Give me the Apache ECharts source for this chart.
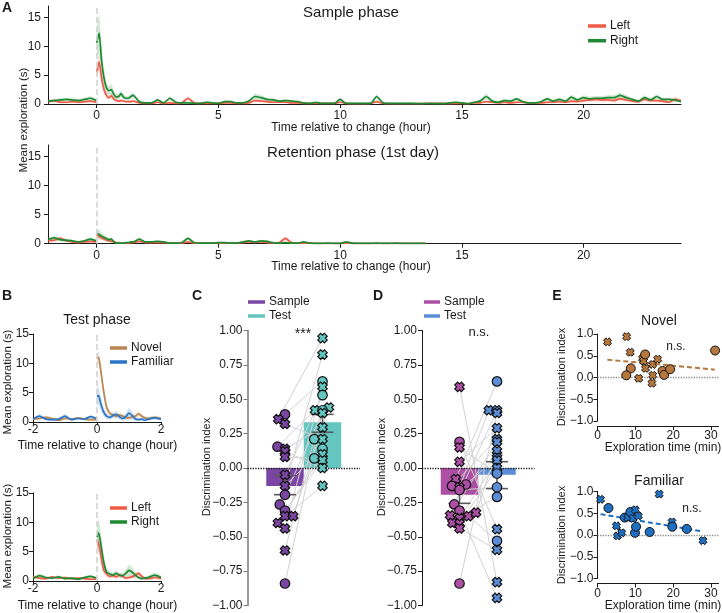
<!DOCTYPE html>
<html>
<head>
<meta charset="utf-8">
<script src="https://cdn.jsdelivr.net/npm/echarts@6/dist/echarts.min.js"></script>
<style>
  html, body { margin: 0; padding: 0; background: #fff; }
  #chart { width: 722px; height: 613px; }
</style>
</head>
<body>
<div id="chart"></div>
<script>
// ---------- data ----------
// time bins (hour) for panel A; null marks the change (line break)
const tA = [-2,-1.75,-1.5,-1.25,-1,-0.75,-0.5,-0.25,-0.02, null,
  0,0.1,0.2,0.3,0.4,0.5,0.6,0.7,0.8,0.9,1,1.1,1.2,1.3,1.4,1.5,
  1.75,
  2,2.25,2.5,2.75, 3,3.25,3.5,3.75, 4,4.25,4.5,4.75, 5,5.25,5.5,5.75,
  6,6.25,6.5,6.75, 7,7.25,7.5,7.75, 8,8.25,8.5,8.75, 9,9.25,9.5,9.75,
  10,10.25,10.5,10.75, 11,11.25,11.5,11.75, 12,12.25,12.5,12.75, 13,13.25,13.5,13.75,
  14,14.25,14.5,14.75, 15,15.25,15.5,15.75, 16,16.25,16.5,16.75, 17,17.25,17.5,17.75,
  18,18.25,18.5,18.75, 19,19.25,19.5,19.75, 20,20.25,20.5,20.75, 21,21.25,21.5,21.75,
  22,22.25,22.5,22.75, 23,23.25,23.5,23.75, 24];

// sample phase
const sampleRight = [0.5,0.6,0.7,0.8,0.7,0.6,0.8,1.0,0.6, null,
  10.6,12.3,7.5,4.5,2.8,2.3,2.5,1.7,1.2,1.3,1.8,1.2,1.0,1.0,1.3,1.5,
  0.4,
  0.2,0.2,0.7,0.2, 1.0,0.3,0.2,0.2, 0.1,0.1,0.3,0.2, 0.1,0.4,0.4,0.2,
  0.2,0.5,1.3,1.1, 0.8,0.7,0.5,0.6, 0.5,0.4,0.2,0.1, 0.3,0.1,0.1,0.1,
  0.8,0.1,0.1,0.1, 0.1,0.1,1.3,0.2, 0.1,0.1,0.1,0.1, 0.1,0.05,0.05,0.1,
  0.05,0.05,0.2,0.3, 0.2,0.05,0.3,0.5, 1.3,0.5,0.3,0.6, 0.5,0.9,0.4,0.2,
  0.2,0.4,0.9,0.5, 0.8,0.5,1.2,0.7, 1.1,0.9,1.0,1.0, 1.1,1.1,1.5,1.1,
  0.8,0.5,1.1,0.7, 1.3,0.8,0.8,0.7, 0.4];
const sampleRightSem = [0.2,0.3,0.3,0.3,0.3,0.3,0.3,0.4,0.3, null,
  2.5,3.5,2.5,1.5,1.0,0.8,1.0,0.7,0.5,0.5,0.6,0.4,0.4,0.4,0.5,0.5,
  0.2,
  0.1,0.1,0.3,0.1, 0.4,0.2,0.1,0.1, 0.1,0.1,0.2,0.1, 0.1,0.2,0.2,0.1,
  0.1,0.2,0.5,0.4, 0.3,0.3,0.2,0.3, 0.2,0.2,0.1,0.1, 0.1,0.1,0.1,0.1,
  0.3,0.1,0.1,0.1, 0.1,0.1,0.4,0.1, 0.1,0.1,0.1,0.1, 0.1,0.05,0.05,0.1,
  0.05,0.05,0.1,0.2, 0.1,0.05,0.2,0.3, 0.5,0.3,0.2,0.3, 0.3,0.3,0.2,0.1,
  0.1,0.2,0.3,0.3, 0.3,0.3,0.4,0.3, 0.4,0.4,0.4,0.4, 0.4,0.4,0.5,0.4,
  0.3,0.3,0.4,0.3, 0.4,0.3,0.3,0.3, 0.2];
const sampleLeft = [0.4,0.6,0.3,0.3,0.4,0.3,0.4,0.5,0.3, null,
  5.5,7.3,4.5,2.5,1.5,1.1,1.4,0.9,0.6,0.5,0.6,0.5,0.4,0.4,0.4,0.5,
  0.2,
  0.1,0.1,0.3,0.1, 0.2,0.1,0.2,1.0, 0.2,0.1,0.1,0.1, 0.1,0.2,0.2,0.1,
  0.1,0.2,0.6,0.5, 0.4,0.3,0.3,0.3, 0.2,0.2,0.1,0.1, 0.1,0.1,0.1,0.1,
  0.3,0.1,0.05,0.05, 0.05,0.1,0.4,0.1, 0.05,0.05,0.05,0.05, 0.05,0.05,0.1,0.1,
  0.1,0.1,0.05,0.1, 0.1,0.05,0.2,0.2, 0.4,0.3,0.2,0.3, 0.2,0.3,0.3,0.2,
  0.2,0.2,0.3,0.3, 0.4,0.3,0.5,0.4, 0.6,0.7,0.8,0.7, 0.7,0.6,0.9,0.7,
  0.5,0.4,0.8,0.6, 0.6,0.5,0.3,0.8, 0.6];
const sampleLeftSem = [0.2,0.3,0.2,0.2,0.2,0.2,0.2,0.2,0.2, null,
  1.2,1.5,1.0,0.8,0.5,0.4,0.5,0.4,0.3,0.3,0.3,0.2,0.2,0.2,0.2,0.2,
  0.1,
  0.1,0.1,0.1,0.1, 0.1,0.1,0.1,0.4, 0.1,0.1,0.1,0.1, 0.1,0.1,0.1,0.1,
  0.1,0.1,0.2,0.2, 0.2,0.1,0.1,0.1, 0.1,0.1,0.1,0.1, 0.1,0.1,0.1,0.1,
  0.1,0.1,0.05,0.05, 0.05,0.1,0.2,0.1, 0.05,0.05,0.05,0.05, 0.05,0.05,0.1,0.1,
  0.1,0.1,0.05,0.1, 0.1,0.05,0.1,0.1, 0.2,0.2,0.1,0.2, 0.1,0.2,0.2,0.1,
  0.1,0.1,0.2,0.2, 0.2,0.2,0.3,0.2, 0.3,0.3,0.4,0.3, 0.3,0.3,0.4,0.3,
  0.3,0.2,0.3,0.3, 0.3,0.3,0.2,0.4, 0.3];

// retention phase (recording ends ~13.5 h)
const retRight = [0.7,1.0,0.7,0.6,0.5,0.3,0.5,0.8,0.5, null,
  1.8,1.6,1.3,1.1,0.9,0.7,0.8,0.4,0.1,0.1,0.1,0.1,0.2,0.2,0.3,0.3,
  0.8,
  0.3,0.3,0.4,0.3, 0.1,0.1,0.2,0.9, 0.2,0.1,0.1,0.1, 0.2,0.2,0.1,0.1,
  0.3,0.5,0.3,0.5, 0.4,0.2,0.1,0.2, 0.1,0.1,0.3,0.1, 0.05,0.05,0.1,0.05,
  0.05,0.3,0.1,0.05, 0.05,0.05,0.1,0.05, 0.05,0.1,0.05,0.05, 0.05,0.05,0.05];
const retRightSem = [0.3,0.4,0.3,0.3,0.2,0.2,0.2,0.3,0.2, null,
  0.8,0.8,0.6,0.5,0.4,0.3,0.3,0.2,0.1,0.1,0.1,0.1,0.1,0.1,0.1,0.1,
  0.3,
  0.1,0.1,0.2,0.1, 0.1,0.1,0.1,0.3, 0.1,0.1,0.1,0.1, 0.1,0.1,0.1,0.1,
  0.1,0.2,0.1,0.2, 0.2,0.1,0.1,0.1, 0.1,0.1,0.1,0.1, 0.05,0.05,0.05,0.05,
  0.05,0.1,0.05,0.05, 0.05,0.05,0.05,0.05, 0.05,0.05,0.05,0.05, 0.05,0.05,0.05];
const retLeft = [0.5,0.6,0.9,0.5,0.3,0.2,0.3,0.4,0.3, null,
  1.5,1.3,1.0,0.8,0.6,0.5,0.4,0.3,0.2,0.2,0.1,0.1,0.1,0.1,0.2,0.2,
  0.4,
  0.2,0.2,0.2,0.2, 0.1,0.1,0.1,0.3, 0.1,0.1,0.1,0.1, 0.1,0.1,0.1,0.1,
  0.2,0.3,0.2,0.3, 0.2,0.1,0.2,0.9, 0.2,0.1,0.1,0.1, 0.05,0.05,0.05,0.05,
  0.05,0.1,0.05,0.05, 0.05,0.05,0.05,0.05, 0.05,0.05,0.05,0.05, 0.05,0.05,0.05];
const retLeftSem = [0.2,0.3,0.4,0.2,0.2,0.1,0.1,0.2,0.1, null,
  0.6,0.5,0.4,0.3,0.3,0.2,0.2,0.1,0.1,0.1,0.1,0.1,0.1,0.1,0.1,0.1,
  0.2,
  0.1,0.1,0.1,0.1, 0.1,0.1,0.1,0.1, 0.1,0.1,0.1,0.1, 0.1,0.1,0.1,0.1,
  0.1,0.1,0.1,0.1, 0.1,0.1,0.1,0.4, 0.1,0.1,0.1,0.1, 0.05,0.05,0.05,0.05,
  0.05,0.05,0.05,0.05, 0.05,0.05,0.05,0.05, 0.05,0.05,0.05,0.05, 0.05,0.05,0.05];

// panel B, test phase
const tB = [-2,-1.8,-1.6,-1.4,-1.2,-1,-0.8,-0.6,-0.4,-0.2,-0.02, null,
  0,0.05,0.1,0.2,0.3,0.4,0.5,0.6,0.7,0.8,0.9,1,1.1,1.2,1.3,1.4,1.5,1.6,1.8,2];
const testNovel = [0.5,0.6,0.8,0.6,0.3,0.6,0.5,0.7,0.5,0.4,0.4, null,
  10.8,11.0,9.5,5.5,2.5,1.5,1.2,1.0,1.2,1.0,0.8,0.7,0.9,1.0,1.4,1.0,0.7,0.6,0.8,0.6];
const testNovelSem = [0.2,0.2,0.3,0.2,0.2,0.2,0.2,0.2,0.2,0.2,0.2, null,
  1.0,1.2,1.2,1.0,0.6,0.4,0.3,0.3,0.3,0.3,0.3,0.3,0.3,0.4,0.5,0.4,0.3,0.3,0.3,0.3];
const testFamiliar = [0.5,1.0,0.5,0.4,0.5,1.0,0.4,0.6,0.5,0.9,0.6, null,
  4.3,4.5,3.5,1.8,1.0,0.8,1.1,1.3,0.9,0.6,0.9,1.5,1.1,0.5,0.4,0.5,0.3,0.5,0.7,0.5];
const testFamiliarSem = [0.2,0.4,0.2,0.2,0.2,0.4,0.2,0.2,0.2,0.3,0.2, null,
  1.5,1.6,1.3,0.8,0.5,0.4,0.5,0.6,0.5,0.4,0.6,1.0,0.7,0.3,0.2,0.3,0.2,0.3,0.3,0.2];
const testRight = [0.4,0.9,0.6,0.5,0.7,0.4,0.5,0.3,0.6,0.8,0.5, null,
  7.5,8.2,7.0,3.5,1.5,1.2,1.0,1.3,1.0,0.9,1.3,1.8,1.5,1.0,0.6,0.4,0.5,0.6,1.0,0.6];
const testRightSem = [0.2,0.3,0.3,0.2,0.3,0.2,0.2,0.2,0.2,0.3,0.2, null,
  2.0,2.5,2.0,1.2,0.6,0.5,0.4,0.5,0.4,0.4,0.6,1.0,0.8,0.5,0.3,0.2,0.3,0.3,0.5,0.3];
const testLeft = [0.7,0.5,0.4,0.7,0.5,0.6,0.4,0.5,0.4,0.3,0.3, null,
  7.0,6.5,5.0,2.0,1.2,0.8,0.9,0.7,1.0,0.8,0.5,0.6,0.7,1.0,1.3,0.8,0.4,0.4,0.6,0.4];
const testLeftSem = [0.2,0.2,0.2,0.2,0.2,0.2,0.2,0.2,0.2,0.2,0.2, null,
  1.5,1.5,1.2,0.8,0.5,0.4,0.4,0.3,0.4,0.3,0.2,0.3,0.3,0.4,0.5,0.3,0.2,0.2,0.3,0.2];

// panel C (marks: 0 = circle, 1 = cross)
const cMean = [-0.13, 0.333];
const cErrLo = [-0.194, 0.26];
const cErrHi = [-0.056, 0.39];
const cSampleDI = [0.39,0.355,0.32,0.155,0.14,0.12,0.08,-0.05,-0.13,-0.195,-0.265,-0.31,-0.35,-0.35,-0.40,-0.44,-0.60,-0.84];
const cSampleJit = [0,-0.18,0,-0.2,0,0,0,0,0,0,-0.14,0,0,0.22,-0.19,0,0,0];
const cSampleMark = [0,1,1,0,1,1,1,1,1,0,0,0,1,1,1,1,1,0];
const cTestDI = [0.945,0.825,0.63,0.59,0.53,0.44,0.42,0.42,0.40,0.295,0.21,0.21,0.14,0.10,0.07,0.055,0.0,-0.13];
const cTestJit = [0,0,0,0,0,0.17,-0.2,0,0,0,-0.22,0,0,0,-0.22,0,0,0];
const cTestMark = [1,1,0,1,0,1,1,0,1,1,0,1,0,1,0,1,1,1];
const cPair = [2,0,11,6,9,16,14,4,12,8,1,15,17,5,13,3,10,7];

// panel D
const dMean = [-0.194, -0.049];
const dErrLo = [-0.257, -0.15];
const dErrHi = [-0.131, 0.046];
const dSampleDI = [0.59,0.19,0.15,0.045,-0.08,-0.13,-0.12,-0.14,-0.16,-0.265,-0.31,-0.345,-0.35,-0.325,-0.365,-0.40,-0.405,-0.44,-0.84];
const dSampleJit = [0,0,0,0,-0.1,-0.2,0.17,0,0,-0.14,0,-0.25,0.24,0.44,0,-0.19,0,0,0];
const dSampleMark = [1,0,1,1,1,0,0,1,0,0,0,1,1,1,1,1,1,1,0];
const dTestDI = [0.63,0.42,0.42,0.40,0.29,0.21,0.19,0.125,0.075,0.055,0.0,-0.04,-0.14,-0.21,-0.445,-0.53,-0.595,-0.83,-0.945];
const dTestJit = [0,-0.22,0,0,0,0,0,0,0,0,0,0,0,0,0,0,0,0,0];
const dTestMark = [0,1,1,1,1,1,1,1,1,1,1,0,0,0,1,0,1,1,1];
const dPair = [17,14,11,4,0,5,8,1,12,2,18,6,15,7,9,13,10,16,3];

// panel E
const eNovTime = [2.65,7.7,8.65,8.8,7.6,10.9,11.9,12.2,12.6,12.7,14.6,15.9,14.6,14.4,17.2,17.6,19.2,31.1];
const eNovDI = [0.82,0.94,0.58,0.21,0.05,-0.02,0.44,0.38,0.53,0.21,0.30,0.42,0.05,-0.13,0.15,0.06,0.19,0.62];
const eNovMark = [1,1,1,0,0,1,1,1,0,1,1,1,1,1,0,0,0,0];
const eNovFitX = [2.6, 31];
const eNovFitY = [0.41, 0.18];
const eFamTime = [0.8,2.9,5.0,5.3,6.4,7.2,8.0,8.7,9.4,10.0,10.8,9.9,10.2,13.8,16.3,19.7,19.8,23.6,27.9];
const eFamDI = [0.82,0.62,0.21,-0.02,0.05,0.40,0.40,0.53,0.38,0.58,0.44,0.05,0.19,0.07,0.94,0.30,0.19,0.14,-0.13];
const eFamMark = [1,0,1,1,1,0,1,0,1,1,1,0,0,0,1,1,0,0,1];
const eFamFitX = [0.8, 27.9];
const eFamFitY = [0.48, 0.08];

// ---------- styling ----------
const FONT = '"Liberation Sans", Arial, sans-serif';
const INK = '#1a1a1a';
const RED = '#ef5b46', GREEN = '#1d8a32';
const BROWN = '#b98550', BLUE = '#2a76c6';
const PURPLE = '#7b46a3', TEAL = '#63c6c1';
const MAGENTA = '#ad4fa4', SKY = '#5b8dd6';
// chunky cross marker
const XMARK = 'path://M0,3 L3,0 L5,2 L7,0 L10,3 L8,5 L10,7 L7,10 L5,8 L3,10 L0,7 L2,5 Z';
const minus = (v, n) => (v < 0 ? '\u2212' : '') + Math.abs(v).toFixed(n);

function merge(a, b) {
  const out = Object.assign({}, a);
  for (const k in b) {
    if (b[k] && typeof b[k] === 'object' && !Array.isArray(b[k]) && a[k]) out[k] = merge(a[k], b[k]);
    else out[k] = b[k];
  }
  return out;
}
function axis(gi, o) {
  return merge({
    type: 'value', gridIndex: gi, splitLine: { show: false },
    axisLine: { show: true, onZero: false, lineStyle: { color: INK, width: 1 } },
    axisTick: { show: true, length: 4, lineStyle: { color: INK, width: 1 } },
    axisLabel: { color: INK, fontSize: 12, fontFamily: FONT, margin: 4 }
  }, o);
}

const grid = [
  { left: 48, top: 6, width: 633, height: 98 },
  { left: 48, top: 145, width: 633, height: 98.7 },
  { left: 33, top: 334, width: 128, height: 88 },
  { left: 33, top: 493, width: 128, height: 88 },
  { left: 247.5, top: 330.5, width: 112.5, height: 275 },
  { left: 422, top: 330.5, width: 112.5, height: 275 },
  { left: 597.5, top: 334, width: 121, height: 87 },
  { left: 597.5, top: 491.5, width: 121, height: 87 }
].map(g => Object.assign({ outerBoundsMode: 'none', containLabel: false }, g));

const hourTicks = [0, 5, 10, 15, 20];
const minTicks = [0, 10, 20, 30];
const xAxis = [
  axis(0, { min: -2, max: 24, axisLabel: { customValues: hourTicks, margin: 6 }, axisTick: { customValues: hourTicks } }),
  axis(1, { min: -2, max: 24, axisLabel: { customValues: hourTicks, margin: 6 }, axisTick: { customValues: hourTicks } }),
  axis(2, { min: -2, max: 2, interval: 2, axisLabel: { margin: 2 }, axisTick: { length: 3 } }),
  axis(3, { min: -2, max: 2, interval: 2, axisLabel: { margin: 2 }, axisTick: { length: 3 } }),
  axis(4, { min: 0, max: 3, show: false }),
  axis(5, { min: 0, max: 3, show: false }),
  axis(6, { min: 0, max: 32, offset: 5, axisLabel: { customValues: minTicks, margin: 4 }, axisTick: { customValues: minTicks } }),
  axis(7, { min: 0, max: 32, offset: 5, axisLabel: { customValues: minTicks, margin: 4 }, axisTick: { customValues: minTicks } })
];
const expTicks = [0, 5, 10, 15];
const yAxis = [
  axis(0, { min: 0, max: 17, axisLabel: { customValues: expTicks, margin: 7 }, axisTick: { customValues: expTicks } }),
  axis(1, { min: 0, max: 17, axisLabel: { customValues: expTicks, margin: 7 }, axisTick: { customValues: expTicks } }),
  axis(2, { min: 0, max: 15, interval: 5 }),
  axis(3, { min: 0, max: 15, interval: 5 }),
  axis(4, { min: -1, max: 1, interval: 0.25, axisLine: { lineStyle: { color: '#777', width: 1.5 } },
    axisTick: { lineStyle: { color: '#777' } }, axisLabel: { margin: 5, formatter: v => minus(v, 2) } }),
  axis(5, { min: -1, max: 1, interval: 0.25, axisLabel: { margin: 5, formatter: v => minus(v, 2) } }),
  axis(6, { min: -1, max: 1, interval: 0.5, axisLabel: { margin: 4, formatter: v => minus(v, 1) } }),
  axis(7, { min: -1, max: 1, interval: 0.5, axisLabel: { margin: 4, formatter: v => minus(v, 1) } })
];

// sem band drawn as one polygon per segment (before / after the change)
function band(gi, t, v, s, color, alpha) {
  const rows = [];
  t.forEach((x, i) => {
    if (i >= v.length) return;
    if (x === null || v[i] === null) rows.push(null);
    else rows.push([x, Math.max(0, v[i] - s[i]), v[i] + s[i]]);
  });
  const segs = [];
  let cur = [];
  rows.forEach(r => {
    if (r === null) { if (cur.length) segs.push(cur); cur = []; }
    else cur.push(r);
  });
  if (cur.length) segs.push(cur);
  return { type: 'custom', xAxisIndex: gi, yAxisIndex: gi, silent: true, z: 2,
    data: rows.filter(r => r !== null), encode: { x: 0, y: [1, 2] },
    renderItem: (p, api) => {
      if (p.dataIndex !== 0) return;
      return { type: 'group', children: segs.map(seg => {
        const up = seg.map(r => api.coord([r[0], r[2]]));
        const dn = seg.slice().reverse().map(r => api.coord([r[0], r[1]]));
        return { type: 'polygon', shape: { points: up.concat(dn) }, style: { fill: color, opacity: alpha } };
      }) };
    } };
}
function trace(gi, t, v, color) {
  const d = [];
  t.forEach((x, i) => {
    if (i >= v.length) return;
    d.push(x === null || v[i] === null ? ['-', '-'] : [x, v[i]]);
  });
  return { type: 'line', xAxisIndex: gi, yAxisIndex: gi, data: d, symbol: 'none', smooth: 0.2, silent: true, z: 3,
    lineStyle: { color: color, width: 1.7 } };
}
function changeLine(gi) {
  return { type: 'line', xAxisIndex: gi, yAxisIndex: gi, data: [], silent: true, z: 1,
    markLine: { silent: true, symbol: ['none', 'none'], label: { show: false },
      lineStyle: { color: '#cfcfcf', type: 'dashed', width: 1.5 }, data: [{ xAxis: 0 }] } };
}
function timePanel(gi, t, a, aSem, aColor, b, bSem, bColor) {
  return [changeLine(gi),
    band(gi, t, a, aSem, aColor, 0.2), band(gi, t, b, bSem, bColor, 0.2),
    trace(gi, t, a, aColor), trace(gi, t, b, bColor)];
}

function dots(gi, base, di, jit, mark, color) {
  return { type: 'scatter', xAxisIndex: gi, yAxisIndex: gi, z: 6, silent: true,
    data: di.map((v, i) => ({ value: [base + jit[i], v], symbol: mark[i] ? XMARK : 'circle', symbolSize: mark[i] ? 9.5 : 9.5 })),
    itemStyle: { color: color, borderColor: '#111', borderWidth: 1.2, opacity: 1 } };
}
function pairLines(gi, sDI, sJit, tDI, tJit, pair) {
  return { type: 'custom', xAxisIndex: gi, yAxisIndex: gi, z: 3, silent: true,
    data: sDI.map((v, i) => [1 + sJit[i], v, 2 + tJit[pair[i]], tDI[pair[i]]]),
    encode: { x: [0, 2], y: [1, 3] },
    renderItem: (p, api) => {
      const a = api.coord([api.value(0), api.value(1)]);
      const b = api.coord([api.value(2), api.value(3)]);
      return { type: 'line', shape: { x1: a[0], y1: a[1], x2: b[0], y2: b[1] }, style: { stroke: '#d2d2d2', lineWidth: 1 } };
    },
    markLine: { silent: true, symbol: ['none', 'none'], label: { show: false },
      lineStyle: { color: INK, type: 'dotted', width: 1.3 }, data: [{ yAxis: 0 }] } };
}
function bars(gi, mean, c1, c2) {
  return { type: 'bar', xAxisIndex: gi, yAxisIndex: gi, barWidth: 37.5, z: 2, silent: true,
    data: [{ value: [1, mean[0]], itemStyle: { color: c1 } }, { value: [2, mean[1]], itemStyle: { color: c2 } }] };
}
function errBars(gi, lo, hi) {
  return { type: 'custom', xAxisIndex: gi, yAxisIndex: gi, z: 4, silent: true,
    data: [[1, lo[0], hi[0]], [2, lo[1], hi[1]]],
    encode: { x: 0, y: [1, 2] },
    renderItem: (p, api) => {
      const a = api.coord([api.value(0), api.value(1)]);
      const b = api.coord([api.value(0), api.value(2)]);
      const st = { stroke: '#5a5a5a', lineWidth: 1.6 };
      return { type: 'group', children: [
        { type: 'line', shape: { x1: a[0], y1: a[1], x2: b[0], y2: b[1] }, style: st },
        { type: 'line', shape: { x1: a[0] - 11, y1: a[1], x2: a[0] + 11, y2: a[1] }, style: st },
        { type: 'line', shape: { x1: b[0] - 11, y1: b[1], x2: b[0] + 11, y2: b[1] }, style: st }
      ] };
    } };
}
function corrPanel(gi, tm, di, mark, fx, fy, color) {
  return [
    { type: 'line', xAxisIndex: gi, yAxisIndex: gi, data: fx.map((x, i) => [x, fy[i]]), symbol: 'none', silent: true, z: 3,
      lineStyle: { color: color, width: 2, type: [5, 3] },
      markLine: { silent: true, symbol: ['none', 'none'], label: { show: false },
        lineStyle: { color: '#8a8a8a', type: 'dotted', width: 1.3 }, data: [{ yAxis: 0 }] } },
    { type: 'scatter', xAxisIndex: gi, yAxisIndex: gi, z: 5, silent: true,
      data: di.map((v, i) => ({ value: [tm[i], v], symbol: mark[i] ? XMARK : 'circle', symbolSize: mark[i] ? 8 : 9 })),
      itemStyle: { color: color, borderColor: '#111', borderWidth: 1, opacity: 1 } }
  ];
}

const series = []
  .concat(timePanel(0, tA, sampleLeft, sampleLeftSem, RED, sampleRight, sampleRightSem, GREEN))
  .concat(timePanel(1, tA, retLeft, retLeftSem, RED, retRight, retRightSem, GREEN))
  .concat(timePanel(2, tB, testNovel, testNovelSem, BROWN, testFamiliar, testFamiliarSem, BLUE))
  .concat(timePanel(3, tB, testLeft, testLeftSem, RED, testRight, testRightSem, GREEN))
  .concat([bars(4, cMean, PURPLE, TEAL), pairLines(4, cSampleDI, cSampleJit, cTestDI, cTestJit, cPair), errBars(4, cErrLo, cErrHi),
    dots(4, 1, cSampleDI, cSampleJit, cSampleMark, PURPLE), dots(4, 2, cTestDI, cTestJit, cTestMark, TEAL)])
  .concat([bars(5, dMean, MAGENTA, SKY), pairLines(5, dSampleDI, dSampleJit, dTestDI, dTestJit, dPair), errBars(5, dErrLo, dErrHi),
    dots(5, 1, dSampleDI, dSampleJit, dSampleMark, MAGENTA), dots(5, 2, dTestDI, dTestJit, dTestMark, SKY)])
  .concat(corrPanel(6, eNovTime, eNovDI, eNovMark, eNovFitX, eNovFitY, '#b5773b'))
  .concat(corrPanel(7, eFamTime, eFamDI, eFamMark, eFamFitX, eFamFitY, '#1f6fc0'));

// ---------- text and legends ----------
function txt(x, y, s, size, o) {
  o = o || {};
  return { type: 'text', x: x, y: y, rotation: o.rot || 0, z: 10,
    style: { text: s, fontSize: size, fontFamily: FONT, fontWeight: o.bold ? 'bold' : 'normal', fill: INK,
      align: o.align || 'center', verticalAlign: 'middle' } };
}
function key(x1, x2, y, color, label) {
  return [
    { type: 'line', z: 10, shape: { x1: x1, y1: y, x2: x2, y2: y }, style: { stroke: color, lineWidth: 3.5 } },
    txt(x2 + 4, y, label, 12, { align: 'left' })
  ];
}
const R = Math.PI / 2;
const graphic = [
  txt(7, 8, 'A', 14, { bold: true }), txt(7, 296, 'B', 14, { bold: true }), txt(197, 296, 'C', 14, { bold: true }),
  txt(378, 296, 'D', 14, { bold: true }), txt(557, 296, 'E', 14, { bold: true }),
  txt(351, 13, 'Sample phase', 15), txt(353, 153, 'Retention phase (1st day)', 15),
  txt(97, 320, 'Test phase', 14), txt(659, 321, 'Novel', 14), txt(659, 481, 'Familiar', 14),
  txt(351, 127.5, 'Time relative to change (hour)', 12), txt(351, 267, 'Time relative to change (hour)', 12),
  txt(97.5, 446, 'Time relative to change (hour)', 12), txt(97.5, 606, 'Time relative to change (hour)', 12),
  txt(24, 120, 'Mean exploration (s)', 11.5, { rot: R }),
  txt(8, 382, 'Mean exploration (s)', 11.5, { rot: R }), txt(8, 536, 'Mean exploration (s)', 11.5, { rot: R }),
  txt(207, 467, 'Discrimination index', 11, { rot: R }), txt(382, 467, 'Discrimination index', 11, { rot: R }),
  txt(562, 377, 'Discrimination index', 11, { rot: R }), txt(562, 535, 'Discrimination index', 11, { rot: R }),
  txt(663, 448, 'Exploration time (min)', 12), txt(663, 606, 'Exploration time (min)', 12),
  txt(303, 334, '***', 14), txt(479, 332, 'n.s.', 13), txt(676, 347, 'n.s.', 12), txt(692, 509, 'n.s.', 12)
].concat(key(588, 606, 26, RED, 'Left'), key(588, 606, 40.7, GREEN, 'Right'),
  key(110, 127, 348, BROWN, 'Novel'), key(110, 127, 362, BLUE, 'Familiar'),
  key(110, 127, 508, RED, 'Left'), key(110, 127, 522, GREEN, 'Right'),
  key(248, 265, 302, PURPLE, 'Sample'), key(248, 265, 316, TEAL, 'Test'),
  key(424, 440, 302, MAGENTA, 'Sample'), key(424, 440, 316, SKY, 'Test'));

const chart = echarts.init(document.getElementById('chart'));
chart.setOption({
  animation: false,
  backgroundColor: '#fff',
  textStyle: { fontFamily: FONT },
  grid: grid,
  xAxis: xAxis,
  yAxis: yAxis,
  series: series,
  graphic: graphic
});
</script>
</body>
</html>
